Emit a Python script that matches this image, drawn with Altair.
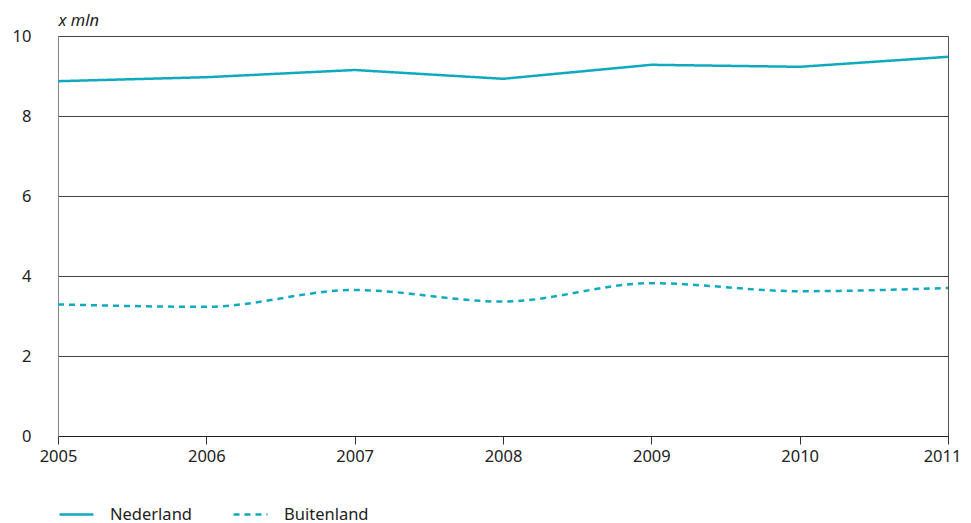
import altair as alt
import pandas as pd

years = [2005, 2006, 2007, 2008, 2009, 2010, 2011]
nederland = [8.87, 8.97, 9.15, 8.93, 9.28, 9.23, 9.48]
buitenland = [3.29, 3.23, 3.65, 3.36, 3.82, 3.62, 3.70]
series = ["Nederland", "Buitenland"]

rows = []
for y, v in zip(years, nederland):
    rows.append({"jaar": y, "waarde": v, "reeks": series[0]})
for y, v in zip(years, buitenland):
    rows.append({"jaar": y, "waarde": v, "reeks": series[1]})
df = pd.DataFrame(rows)

COLOR = "#0fa9c0"
FONT = "Noto Sans"
FS = 16.5

x = alt.X("jaar:Q",
          scale=alt.Scale(domain=[2005, 2011], nice=False, zero=False),
          axis=alt.Axis(values=years, format="d", title=None, grid=False,
                        tickSize=8, tickColor="#333", domainColor="#222",
                        labelPadding=4, labelFontSize=FS, labelColor="#222",
                        labelFont=FONT, labelFlush=False,
                        labelOffset=alt.condition("datum.value == 2011",
                                                  alt.value(-6), alt.value(0))))
y = alt.Y("waarde:Q",
          scale=alt.Scale(domain=[0, 10], nice=False),
          axis=alt.Axis(values=[0, 2, 4, 6, 8, 10], title="x mln", titleAngle=0,
                        titleX=0, titleY=-8, titleAlign="left", titleBaseline="bottom",
                        titleFontStyle="italic", titleFontWeight="normal",
                        titleFontSize=FS, titleFont=FONT, titleColor="#222",
                        grid=True, gridColor="#444", gridWidth=1,
                        ticks=False, domainColor="#888", labelPadding=27,
                        labelFontSize=FS, labelColor="#222", labelFont=FONT))
leg = dict(title=None, orient="none", legendX=0, legendY=460,
           direction="horizontal", symbolType="stroke",
           symbolSize=1156, symbolStrokeWidth=2.5,
           labelFontSize=FS, labelFont=FONT, labelColor="#222",
           labelOffset=15, columnPadding=36)
color = alt.Color("reeks:N", scale=alt.Scale(domain=series, range=[COLOR, COLOR]),
                  legend=alt.Legend(**leg))
dash = alt.StrokeDash("reeks:N", scale=alt.Scale(domain=series, range=[[1, 0], [6, 5]]),
                      legend=alt.Legend(**leg))

base = alt.Chart(df)
solid = base.transform_filter(alt.datum.reeks == "Nederland").mark_line(
    strokeWidth=2.5, interpolate="linear").encode(x=x, y=y, color=color, strokeDash=dash)
dashed = base.transform_filter(alt.datum.reeks == "Buitenland").mark_line(
    strokeWidth=2.5, interpolate="monotone").encode(x=x, y=y, color=color, strokeDash=dash)

chart = alt.layer(solid, dashed).properties(
    width=890, height=400,
    autosize=alt.AutoSizeParams(type="none"),
    padding={"left": 50, "top": 28, "right": 15, "bottom": 87},
).configure_view(stroke="#555", strokeWidth=1)

chart.save("out.html", embed_options={"renderer": "svg", "actions": False})
